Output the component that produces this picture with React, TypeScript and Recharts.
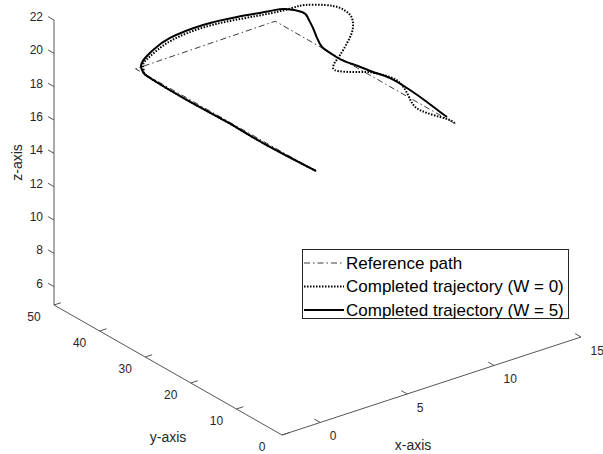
import React from 'react';
import { ComposedChart, Line, Scatter, XAxis, YAxis, Legend } from 'recharts';

type P3 = [number, number, number];

// axis limits of the original 3-D figure
const xLim: [number, number] = [-2.2, 15];
const yLim: [number, number] = [0, 50];
const zLim: [number, number] = [4.9, 22];

const xTicks = [0, 5, 10, 15];
const yTicks = [0, 10, 20, 30, 40, 50];
const zTicks = [6, 8, 10, 12, 14, 16, 18, 20, 22];

// waypoints (x, y, z)
const referencePath: P3[] = [
  [5.0, 20, 15.15],
  [0.0, 40.5, 19.8],
  [5.8, 32, 22.0],
  [12.0, 16, 16.2],
];

const trajectoryW0: P3[] = [
  [5.0, 20, 15.16], [3.53, 26.0, 16.4], [2.53, 30.1, 17.37], [1.43, 34.65, 18.35],
  [0.4, 38.85, 19.37], [0.23, 39.53, 19.68], [0.38, 40.3, 19.93], [0.47, 39.77, 20.34],
  [0.8, 39.29, 20.72], [1.51, 38.25, 21.36], [2.88, 36.25, 21.99], [4.34, 34.13, 22.3],
  [5.67, 32.18, 22.51], [6.38, 30.49, 22.83], [6.82, 29.33, 23.04], [7.51, 27.56, 23.08],
  [8.02, 26.22, 22.94], [8.36, 25.33, 22.54], [8.46, 25.07, 22.06], [8.43, 25.16, 21.52],
  [8.26, 25.6, 20.85], [8.02, 26.22, 20.12], [7.85, 26.67, 19.68], [7.78, 26.84, 19.32],
  [7.95, 26.4, 19.15], [8.43, 25.16, 19.12], [8.87, 24.0, 19.15], [9.21, 23.11, 19.11],
  [9.73, 21.78, 18.9], [10.07, 20.89, 18.57], [10.31, 20.27, 17.98], [10.48, 19.82, 17.39],
  [10.69, 19.29, 17.04], [10.99, 18.49, 16.83], [11.44, 17.33, 16.61], [11.78, 16.44, 16.46],
  [12.0, 16.0, 16.2],
];

const trajectoryW5: P3[] = [
  [5.0, 20, 15.16], [3.53, 26.0, 16.4], [2.53, 30.1, 17.37], [1.43, 34.65, 18.35],
  [0.4, 38.85, 19.37], [0.21, 39.65, 19.67], [0.26, 40.3, 19.91], [0.39, 39.9, 20.41],
  [0.72, 39.4, 20.86], [1.43, 38.4, 21.49], [2.81, 36.4, 22.11], [4.21, 34.3, 22.44],
  [5.59, 32.3, 22.64], [6.21, 31.4, 22.69], [6.72, 29.6, 22.61], [6.92, 29.07, 22.27],
  [7.09, 28.62, 21.68], [7.23, 28.27, 21.09], [7.4, 27.82, 20.56], [7.67, 27.11, 20.22],
  [8.08, 26.04, 19.82], [8.63, 24.62, 19.5], [9.15, 23.29, 19.17], [9.73, 21.78, 18.84],
  [10.41, 20.0, 18.17], [10.99, 18.49, 17.49], [11.44, 17.33, 16.91], [11.68, 16.71, 16.63],
];

const FONT = '"Liberation Sans", Arial, Helvetica, sans-serif';
const AXIS_GRAY = '#555';
const TEXT_GRAY = '#262626';

// screen extent of each full-length axis (right, up) - the fixed camera of the figure
const VIEW = { x: [299, 98], y: [-228, 130], z: [0, 285] };

const norm = (val: number, [lo, hi]: [number, number]) => (val - lo) / (hi - lo);

function project([x, y, z]: P3) {
  const nx = norm(x, xLim);
  const ny = norm(y, yLim);
  const nz = norm(z, zLim);
  return {
    u: VIEW.x[0] * nx + VIEW.y[0] * ny + VIEW.z[0] * nz,
    v: VIEW.x[1] * nx + VIEW.y[1] * ny + VIEW.z[1] * nz,
  };
}

const toUV = (pts: P3[]) => pts.map(project);

// short segments joined by a gap point, so one Line draws all of them
function segments(pairs: [P3, P3][]) {
  return pairs.flatMap(([a, b]) => {
    const pa = project(a);
    const pb = project(b);
    return [pa, pb, { u: pb.u, v: null }];
  });
}

const [x0, x1] = xLim;
const [y0, y1] = yLim;
const [z0, z1] = zLim;

const axisFrame = toUV([[x1, y0, z0], [x0, y0, z0], [x0, y1, z0], [x0, y1, z1]]);
const xTickMarks = segments(xTicks.map((t) => [[t, y0, z0], [t, y0 + 1.3, z0]] as [P3, P3]));
const yTickMarks = segments(yTicks.map((t) => [[x0, t, z0], [x0 + 0.4, t, z0]] as [P3, P3]));
const zTickMarks = segments(zTicks.map((t) => [[x0, y1, t], [x0, y1 + 1.3, t]] as [P3, P3]));

const xTickLabels = xTicks.map((t) => ({ ...project([t, y0, z0]), label: String(t) }));
const yTickLabels = yTicks.map((t) => ({ ...project([x0, t, z0]), label: String(t) }));
const zTickLabels = zTicks.map((t) => ({ ...project([x0, y1, t]), label: String(t) }));

const xTitle = [{ ...project([(x0 + x1) / 2, y0, z0]), label: 'x-axis' }];
const yTitle = [{ ...project([x0, (y0 + y1) / 2, z0]), label: 'y-axis' }];
const zTitle = [{ ...project([x0, y1, (z0 + z1) / 2]), label: 'z-axis' }];

const seriesStyle: Record<string, { width: number; dash?: string; color: string }> = {
  'Reference path': { width: 0.9, dash: '6 3 1.5 3', color: '#262626' },
  'Completed trajectory (W = 0)': { width: 2, dash: '1.5 1.5', color: '#000' },
  'Completed trajectory (W = 5)': { width: 2, color: '#000' },
};
const legendOrder = Object.keys(seriesStyle);

const textAt = (dx: number, dy: number, anchor: string, size: number, rotate = false) =>
  (props: any) => {
    const x = props.cx + dx;
    const y = props.cy + dy;
    return (
      <text
        x={x}
        y={y}
        textAnchor={anchor}
        dominantBaseline="central"
        fontSize={size}
        fontFamily={FONT}
        fill={TEXT_GRAY}
        transform={rotate ? `rotate(-90, ${x}, ${y})` : undefined}
      >
        {props.payload.label}
      </text>
    );
  };

function renderLegend({ payload }: any) {
  const items = (payload ?? [])
    .filter((p: any) => seriesStyle[p.value])
    .sort((a: any, b: any) => legendOrder.indexOf(a.value) - legendOrder.indexOf(b.value));
  return (
    <div
      style={{
        width: 267,
        height: 70,
        boxSizing: 'border-box',
        border: '1px solid #262626',
        background: '#fff',
      }}
    >
      <svg width={265} height={68} style={{ display: 'block' }}>
        {items.map((entry: any, i: number) => {
          const s = seriesStyle[entry.value];
          const cy = 13 + i * 23.5;
          return (
            <g key={entry.value}>
              <line x1={1} x2={41} y1={cy} y2={cy} stroke={s.color} strokeWidth={s.width} strokeDasharray={s.dash} />
              <text x={43} y={cy} dominantBaseline="central" fontSize={17} fontFamily={FONT} fill="#000">
                {entry.value}
              </text>
            </g>
          );
        })}
      </svg>
    </div>
  );
}

export default function App() {
  return (
    <div style={{ position: 'absolute', left: 0, top: 0, background: '#fff' }}>
      <ComposedChart width={603} height={454} margin={{ top: 0, right: 0, bottom: 0, left: 0 }}>
        <XAxis type="number" dataKey="u" domain={[-282, 321]} allowDataOverflow hide />
        <YAxis type="number" dataKey="v" domain={[-19, 435]} allowDataOverflow hide />

        <Line data={axisFrame} dataKey="v" stroke={AXIS_GRAY} strokeWidth={1} dot={false} activeDot={false} legendType="none" isAnimationActive={false} />
        <Line data={xTickMarks} dataKey="v" stroke={AXIS_GRAY} strokeWidth={1} dot={false} activeDot={false} legendType="none" isAnimationActive={false} />
        <Line data={yTickMarks} dataKey="v" stroke={AXIS_GRAY} strokeWidth={1} dot={false} activeDot={false} legendType="none" isAnimationActive={false} />
        <Line data={zTickMarks} dataKey="v" stroke={AXIS_GRAY} strokeWidth={1} dot={false} activeDot={false} legendType="none" isAnimationActive={false} />

        <Scatter data={xTickLabels} legendType="none" isAnimationActive={false} shape={textAt(9.5, 14, 'start', 12)} />
        <Scatter data={yTickLabels} legendType="none" isAnimationActive={false} shape={textAt(-20, 12, 'middle', 12)} />
        <Scatter data={zTickLabels} legendType="none" isAnimationActive={false} shape={textAt(-11, -3, 'end', 12)} />
        <Scatter data={xTitle} legendType="none" isAnimationActive={false} shape={textAt(-18.5, 59, 'middle', 14)} />
        <Scatter data={yTitle} legendType="none" isAnimationActive={false} shape={textAt(0, 67, 'middle', 14)} />
        <Scatter data={zTitle} legendType="none" isAnimationActive={false} shape={textAt(-37, 0, 'middle', 14, true)} />

        <Line
          name="Reference path"
          data={toUV(referencePath)}
          dataKey="v"
          type="linear"
          stroke={seriesStyle['Reference path'].color}
          strokeWidth={seriesStyle['Reference path'].width}
          strokeDasharray={seriesStyle['Reference path'].dash}
          dot={false}
          activeDot={false}
          isAnimationActive={false}
        />
        <Line
          name="Completed trajectory (W = 0)"
          data={toUV(trajectoryW0)}
          dataKey="v"
          type="natural"
          stroke="#000"
          strokeWidth={2}
          strokeDasharray="1.5 1.5"
          dot={false}
          activeDot={false}
          isAnimationActive={false}
        />
        <Line
          name="Completed trajectory (W = 5)"
          data={toUV(trajectoryW5)}
          dataKey="v"
          type="natural"
          stroke="#000"
          strokeWidth={2}
          dot={false}
          activeDot={false}
          isAnimationActive={false}
        />

        <Legend
          layout="vertical"
          align="center"
          verticalAlign="middle"
          content={renderLegend}
          wrapperStyle={{ left: 302, top: 249 }}
        />
      </ComposedChart>
    </div>
  );
}
